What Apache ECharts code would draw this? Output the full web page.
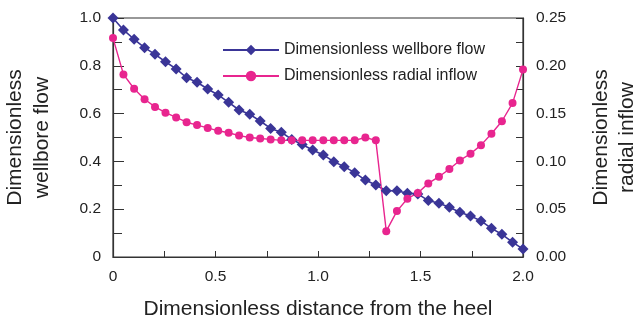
<!DOCTYPE html>
<html>
<head>
<meta charset="utf-8">
<script src="https://cdn.jsdelivr.net/npm/echarts@6/dist/echarts.min.js"></script>
<style>html,body{margin:0;padding:0;background:#fff}#c{width:635px;height:320px}</style>
</head>
<body>
<div id="c"></div>
<script>
var distance = [0, 0.051, 0.103, 0.154, 0.205, 0.256, 0.308, 0.359, 0.410, 0.462,
  0.513, 0.564, 0.615, 0.667, 0.718, 0.769, 0.821, 0.872, 0.923, 0.974,
  1.026, 1.077, 1.128, 1.179, 1.231, 1.282, 1.333, 1.385, 1.436, 1.487,
  1.538, 1.590, 1.641, 1.692, 1.744, 1.795, 1.846, 1.897, 1.949, 2.0];
var wellboreFlow = [1.0, 0.950, 0.911, 0.876, 0.848, 0.817, 0.787, 0.750, 0.731, 0.703,
  0.678, 0.647, 0.615, 0.597, 0.569, 0.538, 0.522, 0.492, 0.471, 0.448,
  0.427, 0.399, 0.378, 0.353, 0.322, 0.301, 0.277, 0.277, 0.267, 0.264,
  0.236, 0.225, 0.208, 0.187, 0.172, 0.151, 0.120, 0.095, 0.062, 0.033];
var radialInflow = [0.229, 0.191, 0.176, 0.165, 0.157, 0.151, 0.146, 0.141, 0.138, 0.135,
  0.132, 0.130, 0.127, 0.125, 0.124, 0.123, 0.122, 0.122, 0.122, 0.122,
  0.122, 0.122, 0.122, 0.122, 0.125, 0.122, 0.027, 0.048, 0.061, 0.067,
  0.077, 0.084, 0.092, 0.101, 0.108, 0.117, 0.129, 0.142, 0.161, 0.196];
var seriesNames = ['Dimensionless wellbore flow', 'Dimensionless radial inflow'];
var xTitle = 'Dimensionless distance from the heel';
var yLeftTitle = 'Dimensionless\nwellbore flow';
var yRightTitle = 'Dimensionless\nradial inflow';

function pairs(xs, ys) { return xs.map(function (x, i) { return [x, ys[i]]; }); }

var FONT = '"Liberation Sans", Arial, sans-serif';
var axisCol = '#333';
var chart = echarts.init(document.getElementById('c'), null, {renderer: 'canvas'});
chart.setOption({
  animation: false,
  textStyle: {fontFamily: FONT},
  grid: {left: 113, right: 112, top: 18, bottom: 63, containLabel: false, outerBoundsMode: 'none',
    show: true, borderColor: axisCol, borderWidth: 1.2},
  legend: {
    left: 217, top: 37, orient: 'vertical', itemWidth: 56, itemHeight: 13, itemGap: 10,
    textStyle: {fontSize: 16, color: '#222', fontFamily: FONT},
    data: seriesNames
  },
  xAxis: {
    type: 'value', min: 0, max: 2, interval: 0.5,
    name: xTitle, nameLocation: 'middle', nameGap: 42,
    nameTextStyle: {fontSize: 21, color: '#222', fontFamily: FONT},
    axisLine: {lineStyle: {color: axisCol, width: 1.2}},
    axisTick: {inside: true, length: 6, lineStyle: {color: axisCol}},
    minorTick: {show: true, splitNumber: 2, length: 6, lineStyle: {color: axisCol}},
    splitLine: {show: false},
    axisLabel: {fontSize: 15.5, color: '#222', margin: 12, fontFamily: FONT,
      formatter: function (v) { return v === 0 ? '0' : v.toFixed(1); }}
  },
  yAxis: [{
    type: 'value', min: 0, max: 1, interval: 0.2, position: 'left',
    name: yLeftTitle, nameLocation: 'middle', nameGap: 57, nameRotate: 90,
    nameTextStyle: {fontSize: 21, color: '#222', fontFamily: FONT, lineHeight: 27},
    axisLine: {show: true, lineStyle: {color: axisCol, width: 1.2}},
    axisTick: {inside: true, length: 11, lineStyle: {color: axisCol}},
    minorTick: {show: true, splitNumber: 2, length: 9, lineStyle: {color: axisCol}},
    splitLine: {show: false},
    axisLabel: {fontSize: 15.5, color: '#222', margin: 12, fontFamily: FONT,
      formatter: function (v) { return v === 0 ? '0' : v.toFixed(1); }}
  }, {
    type: 'value', min: 0, max: 0.25, interval: 0.05, position: 'right',
    name: yRightTitle, nameLocation: 'middle', nameGap: 65, nameRotate: 90,
    nameTextStyle: {fontSize: 21, color: '#222', fontFamily: FONT, lineHeight: 26},
    axisLine: {show: true, lineStyle: {color: axisCol, width: 1.2}},
    axisTick: {inside: true, length: 7, lineStyle: {color: axisCol}},
    minorTick: {show: true, splitNumber: 2, length: 7, lineStyle: {color: axisCol}},
    splitLine: {show: false},
    axisLabel: {fontSize: 15.5, color: '#222', margin: 13, fontFamily: FONT,
      formatter: function (v) { return v.toFixed(2); }}
  }],
  series: [{
    name: seriesNames[0], type: 'line', yAxisIndex: 0,
    data: pairs(distance, wellboreFlow),
    symbol: 'diamond', symbolSize: 11,
    lineStyle: {color: '#3a3597', width: 1.6},
    itemStyle: {color: '#3a3597'}
  }, {
    name: seriesNames[1], type: 'line', yAxisIndex: 1,
    data: pairs(distance, radialInflow),
    symbol: 'circle', symbolSize: 8,
    lineStyle: {color: '#e8258f', width: 1.4},
    itemStyle: {color: '#e8258f'}
  }]
});
</script>
</body>
</html>
